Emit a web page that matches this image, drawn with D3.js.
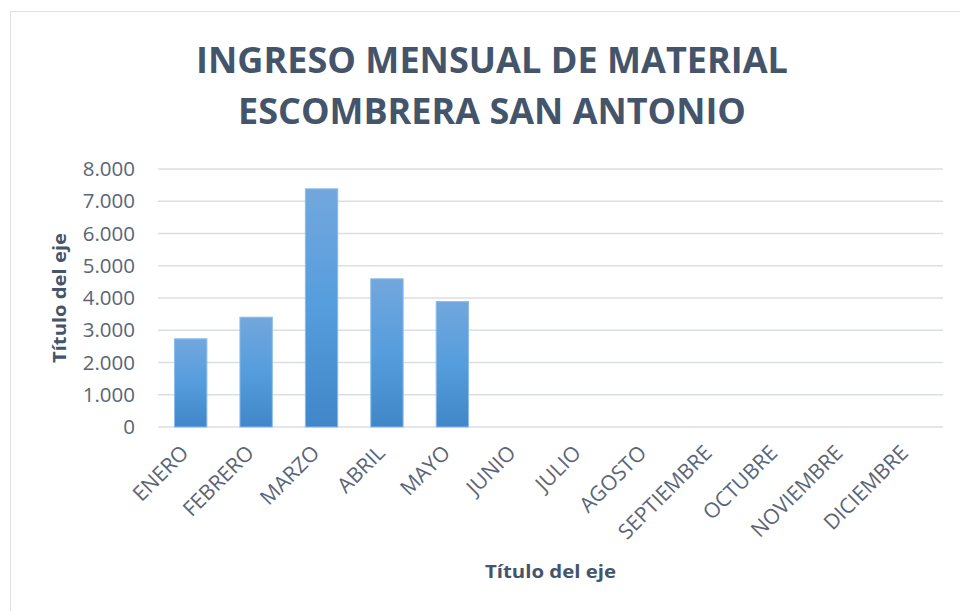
<!DOCTYPE html>
<html>
<head>
<meta charset="utf-8">
<script src="https://cdn.jsdelivr.net/npm/d3@7"></script>
<style>
  html, body { margin: 0; padding: 0; background: #fff; }
  svg { display: block; font-family: "Open Sans", "Noto Sans", sans-serif; }
</style>
</head>
<body>
<svg id="chart" width="960" height="611"></svg>
<script>
const months = ['ENERO', 'FEBRERO', 'MARZO', 'ABRIL', 'MAYO', 'JUNIO', 'JULIO',
  'AGOSTO', 'SEPTIEMBRE', 'OCTUBRE', 'NOVIEMBRE', 'DICIEMBRE']
const ingreso = [2750, 3420, 7400, 4610, 3905, null, null, null, null, null, null, null]
const yTicks = [0, 1000, 2000, 3000, 4000, 5000, 6000, 7000, 8000]
const titleLines = ['INGRESO MENSUAL DE MATERIAL', 'ESCOMBRERA SAN ANTONIO']
const axisTitle = 'Título del eje'

const svg = d3.select('#chart')
const textColor = '#44546a'
const tickColor = '#5a6577'

// chart frame
svg.append('rect')
  .attr('x', 10.5).attr('y', 11.5)
  .attr('width', 960).attr('height', 620)
  .attr('fill', '#fff')
  .attr('stroke', '#dfe3e8')

const plot = { left: 158, right: 943, top: 169, bottom: 427 }

const x = d3.scaleBand()
  .domain(months)
  .range([plot.left, plot.right])
  .paddingInner(0.49)
  .paddingOuter(0.245)

const y = d3.scaleLinear()
  .domain([0, 8000])
  .range([plot.bottom, plot.top])

const fmt = d => d3.format(',')(d).replace(/,/g, '.')

// gradient for bars
const defs = svg.append('defs')
const grad = defs.append('linearGradient')
  .attr('id', 'barGrad')
  .attr('x1', 0).attr('y1', 0).attr('x2', 0).attr('y2', 1)
grad.append('stop').attr('offset', '0%').attr('stop-color', '#72a7dd')
grad.append('stop').attr('offset', '50%').attr('stop-color', '#559ddd')
grad.append('stop').attr('offset', '100%').attr('stop-color', '#4086c8')

// gridlines
svg.append('g')
  .selectAll('line')
  .data(yTicks)
  .join('line')
  .attr('x1', plot.left).attr('x2', plot.right)
  .attr('y1', d => y(d)).attr('y2', d => y(d))
  .attr('stroke', '#dadee5')
  .attr('stroke-width', 1.5)

// y axis labels
const yAxis = svg.append('g')
  .attr('transform', `translate(${plot.left - 23},0)`)
  .call(d3.axisLeft(y).tickValues(yTicks).tickFormat(fmt).tickSize(0).tickPadding(0))
yAxis.select('.domain').remove()
yAxis.selectAll('text')
  .attr('fill', tickColor)
  .attr('font-size', 20.5)
  .attr('font-family', '"Open Sans", sans-serif')

// bars
svg.append('g')
  .selectAll('rect')
  .data(months.map((m, i) => ({ m, v: ingreso[i] })).filter(d => d.v != null))
  .join('rect')
  .attr('x', d => x(d.m) + 0.5)
  .attr('y', d => y(d.v) + 0.5)
  .attr('width', x.bandwidth() - 1)
  .attr('height', d => y(0) - y(d.v) - 0.5)
  .attr('fill', 'url(#barGrad)')
  .attr('stroke', '#8dbbe8')
  .attr('stroke-width', 1)

// x axis labels
const xAxis = svg.append('g')
  .attr('transform', `translate(0,${plot.bottom + 22})`)
  .call(d3.axisBottom(x).tickSize(0).tickPadding(0))
xAxis.select('.domain').remove()
xAxis.selectAll('text')
  .attr('fill', tickColor)
  .attr('font-size', 21)
  .attr('font-family', '"Open Sans", sans-serif')
  .attr('text-anchor', 'end')
  .attr('y', 0)
  .attr('dy', '0.35em')
  .attr('transform', 'translate(-6,0) rotate(-45)')

// title
svg.append('g')
  .selectAll('text')
  .data(titleLines)
  .join('text')
  .attr('x', 492)
  .attr('y', (d, i) => 73 + i * 51)
  .attr('text-anchor', 'middle')
  .attr('fill', textColor)
  .attr('font-weight', 'bold')
  .attr('font-size', 36)
  .attr('font-family', '"Open Sans", sans-serif')
  .attr('textLength', (d, i) => i === 0 ? 592 : 508)
  .attr('lengthAdjust', 'spacingAndGlyphs')
  .text(d => d)

// axis titles
svg.append('text')
  .attr('transform', `translate(66,${(plot.top + plot.bottom) / 2}) rotate(-90)`)
  .attr('text-anchor', 'middle')
  .attr('fill', textColor)
  .attr('font-weight', 'bold')
  .attr('font-size', 18)
  .attr('textLength', 130)
  .attr('lengthAdjust', 'spacingAndGlyphs')
  .text(axisTitle)

svg.append('text')
  .attr('x', (plot.left + plot.right) / 2)
  .attr('y', 578)
  .attr('text-anchor', 'middle')
  .attr('fill', textColor)
  .attr('font-weight', 'bold')
  .attr('font-size', 18)
  .attr('textLength', 131)
  .attr('lengthAdjust', 'spacingAndGlyphs')
  .text(axisTitle)
</script>
</body>
</html>
